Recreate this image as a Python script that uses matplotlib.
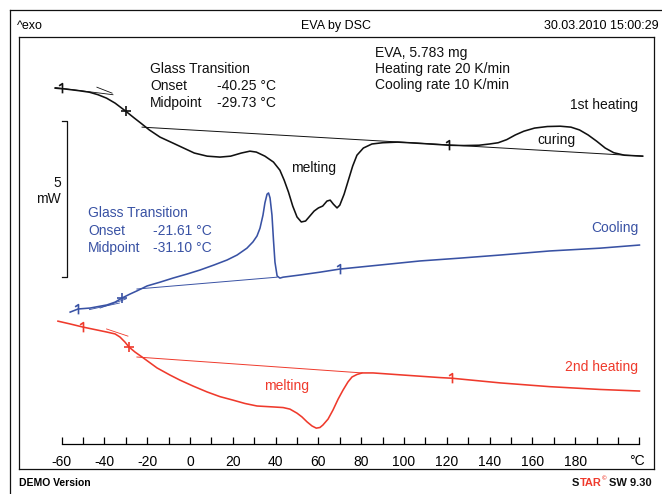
import matplotlib
matplotlib.use('Agg')
import matplotlib.pyplot as plt
from matplotlib.lines import Line2D
from matplotlib.path import Path

plt.rcParams['font.family'] = ['Liberation Sans', 'DejaVu Sans']

# --- data (temperature in degC, heat flow in mW, exo up) ---
heat1_T = [-63, -58, -52, -47, -43, -39, -35, -30, -26, -23, -19, -14, -8, -3, 2, 8, 14, 19, 24, 28,
           31, 35, 39, 42, 44, 46, 48, 50, 52, 54, 56, 58, 60, 62, 64, 65.5, 67, 68.7, 70, 72,
           74, 76, 78, 81, 85, 90, 97, 105, 112, 121, 128, 135, 140, 144, 148, 152, 156, 161, 167, 173,
           178, 182, 186, 190, 194, 198, 203, 211.5]
heat1_mW = [12.21, 12.18, 12.13, 12.08, 12.00, 11.89, 11.73, 11.47, 11.25, 11.09, 10.87, 10.64, 10.45, 10.29, 10.13, 10.03, 10.00, 10.03, 10.13, 10.19,
            10.16, 10.03, 9.84, 9.58, 9.26, 8.88, 8.43, 8.08, 7.92, 7.95, 8.11, 8.27, 8.37, 8.43, 8.59, 8.62, 8.49, 8.37, 8.46, 8.81,
            9.26, 9.71, 10.06, 10.29, 10.42, 10.46, 10.48, 10.45, 10.42, 10.38, 10.37, 10.38, 10.42, 10.46, 10.56, 10.71, 10.83, 10.93, 10.98, 10.99,
            10.96, 10.87, 10.71, 10.51, 10.29, 10.14, 10.06, 10.03]
heat1_base_T = [-22.4, 211.5]
heat1_base_mW = [10.96, 10.03]
heat1_tan_T = [[-63, -36], [-43.5, -36.4]]
heat1_tan_mW = [[12.23, 12.00], [12.24, 12.05]]
heat1_flag_T = [-60, 121]
heat1_flag_mW = [12.20, 10.38]
heat1_mid = (-30, 11.47)

cool_T = [-56, -52.3, -46.7, -38.8, -35, -31.8, -28, -24.8, -20, -14,
          -8, -1.4, 4.7, 11.2, 17.3, 22, 26.6, 29.4, 31.3, 32.7,
          34.1, 35, 36, 36.7, 37.4, 38.3, 39, 39.7, 40.7, 42,
          43.5, 51.4, 60.7, 70, 88.8, 107.5, 126, 145, 168, 191.6, 210]
cool_mW = [5.03, 5.13, 5.16, 5.26, 5.35, 5.48, 5.61, 5.71, 5.87, 5.99,
           6.12, 6.25, 6.38, 6.54, 6.70, 6.86, 7.08, 7.28, 7.47, 7.72,
           8.14, 8.53, 8.81, 8.85, 8.69, 8.14, 7.34, 6.63, 6.19, 6.12,
           6.15, 6.22, 6.31, 6.41, 6.54, 6.67, 6.76, 6.86, 6.99, 7.08, 7.18]
cool_base_T = [-24.8, 40.7]
cool_base_mW = [5.77, 6.15]
cool_tan_T = [[-47, -33], [-42, -30]]
cool_tan_mW = [[5.11, 5.32], [5.16, 5.45]]
cool_flag_T = [-52.3, 70]
cool_flag_mW = [5.13, 6.41]
cool_mid = (-31.8, 5.48)

heat2_T = [-61.7, -56, -50, -44.4, -38.8, -35, -32.7, -30.4, -28.5, -25.7,
           -22.4, -15.4, -9.3, -4.7, 1.4, 8, 14, 20, 25.7, 31.3,
           38.8, 43.5, 46.7, 50, 52.3, 54.7, 57, 59, 60.7, 62.1,
           64.5, 66.8, 69.2, 71.5, 73.8, 75.7, 78, 80.4, 85.5, 98,
           117, 122.4, 145, 168, 191.6, 210]
heat2_mW = [4.74, 4.65, 4.55, 4.47, 4.39, 4.33, 4.23, 4.07, 3.91, 3.75,
            3.59, 3.24, 3.01, 2.85, 2.66, 2.47, 2.32, 2.21, 2.10, 2.02,
            1.99, 1.97, 1.92, 1.79, 1.67, 1.51, 1.38, 1.31, 1.33, 1.41,
            1.60, 1.89, 2.24, 2.53, 2.79, 2.95, 3.03, 3.08, 3.08, 3.02,
            2.93, 2.91, 2.76, 2.64, 2.55, 2.50]
heat2_base_T = [-24.8, 80.4]
heat2_base_mW = [3.59, 3.08]
heat2_tan_T = [[-39, -29]]
heat2_tan_mW = [[4.49, 4.26]]
heat2_flag_T = [-50, 122.4]
heat2_flag_mW = [4.55, 2.91]
heat2_mid = (-28.5, 3.91)

tick_major = list(range(-60, 181, 20))
tick_minor = list(range(-60, 211, 10))

BLACK = '#111111'
BLUE = '#3952a4'
RED = '#ef3a2c'

W, H = 662, 494


def fx(x):
    return x / W


def fy(y):
    return 1 - y / H


fig = plt.figure(figsize=(6.62, 4.94), dpi=100)

# outer frame (runs off the right/bottom edge)
fig.add_artist(Line2D([fx(10), 1.0], [fy(10), fy(10)], transform=fig.transFigure, color=BLACK, lw=0.9))
fig.add_artist(Line2D([fx(10), fx(10)], [fy(10), 0.0], transform=fig.transFigure, color=BLACK, lw=0.9))

ax = fig.add_axes([fx(19), fy(469), fx(654) - fx(19), fy(37) - fy(469)])
ax.set_xlim(-79.9, 216.8)
ax.set_ylim(0, 13.85)
ax.set_xticks([])
ax.set_yticks([])
for s in ax.spines.values():
    s.set_linewidth(0.9)
    s.set_color(BLACK)

flag = Path([(0, -1), (0, 1), (-0.7, 0.55)], [Path.MOVETO, Path.LINETO, Path.LINETO])

curves = [
    (heat1_T, heat1_mW, heat1_base_T, heat1_base_mW, heat1_tan_T, heat1_tan_mW,
     heat1_flag_T, heat1_flag_mW, heat1_mid, BLACK),
    (cool_T, cool_mW, cool_base_T, cool_base_mW, cool_tan_T, cool_tan_mW,
     cool_flag_T, cool_flag_mW, cool_mid, BLUE),
    (heat2_T, heat2_mW, heat2_base_T, heat2_base_mW, heat2_tan_T, heat2_tan_mW,
     heat2_flag_T, heat2_flag_mW, heat2_mid, RED),
]
for T, y, bT, by, tT, ty, fT, fyv, mid, c in curves:
    ax.plot(T, y, color=c, lw=1.15, solid_joinstyle='round')
    ax.plot(bT, by, color=c, lw=0.7)
    for a, b in zip(tT, ty):
        ax.plot(a, b, color=c, lw=0.6)
    ax.plot(fT, fyv, ls='none', marker=flag, ms=7, mfc='none', mec=c, mew=1.2)
    ax.plot(*mid, ls='none', marker='+', ms=7, mec=c, mew=1.2)

# 5 mW scale bar
ax.plot([-59.8, -57.5, -57.5, -59.8], [11.15, 11.15, 6.15, 6.15], color=BLACK, lw=0.9)

# temperature axis
tax = fig.add_axes([fx(19), fy(444), fx(654) - fx(19), 0.02])
tax.set_xlim(ax.get_xlim())
tax.patch.set_visible(False)
for k in ['top', 'left', 'right']:
    tax.spines[k].set_visible(False)
tax.spines['bottom'].set_bounds(-60, 210)
tax.spines['bottom'].set_linewidth(0.9)
tax.set_yticks([])
tax.set_xticks(tick_major)
tax.set_xticklabels([str(v) for v in tick_major])
tax.set_xticks(tick_minor, minor=True)
tax.tick_params(axis='x', which='both', direction='in', length=5, width=0.9, pad=8, labelsize=10)
fig.text(fx(637), fy(461), '°C', ha='center', va='center', fontsize=10)

# header / footer
fig.text(fx(17), fy(26), '^exo', ha='left', va='center', fontsize=9)
fig.text(fx(336), fy(26), 'EVA by DSC', ha='center', va='center', fontsize=9)
fig.text(fx(659), fy(26), '30.03.2010 15:00:29', ha='right', va='center', fontsize=9)
fig.text(fx(19), fy(483), 'DEMO Version', ha='left', va='center', fontsize=7.5, fontweight='bold')

# "STAR(c) SW 9.30" with the TAR part in red
renderer = fig.canvas.get_renderer()
t_s = fig.text(fx(572), fy(483), 'S', ha='left', va='center', fontsize=8, fontweight='bold', color=BLACK)
x1 = t_s.get_window_extent(renderer).x1 / W
t_tar = fig.text(x1 + 0.5 / W, fy(483), 'TAR', ha='left', va='center', fontsize=8, fontweight='bold', color=RED)
x2 = t_tar.get_window_extent(renderer).x1 / W
fig.text(x2 + 0.5 / W, fy(479), '©', ha='left', va='center', fontsize=4.5, fontweight='bold', color=RED)
fig.text(fx(652), fy(483), 'SW 9.30', ha='right', va='center', fontsize=8, fontweight='bold', color=BLACK)

# annotations
fs = 10
fig.text(fx(150), fy(69), 'Glass Transition', ha='left', va='center', fontsize=fs, color=BLACK)
fig.text(fx(150), fy(86), 'Onset', ha='left', va='center', fontsize=fs, color=BLACK)
fig.text(fx(217), fy(86), '-40.25 °C', ha='left', va='center', fontsize=fs, color=BLACK)
fig.text(fx(150), fy(103), 'Midpoint', ha='left', va='center', fontsize=fs, color=BLACK)
fig.text(fx(217), fy(103), '-29.73 °C', ha='left', va='center', fontsize=fs, color=BLACK)
fig.text(fx(375), fy(53), 'EVA, 5.783 mg', ha='left', va='center', fontsize=fs, color=BLACK)
fig.text(fx(375), fy(69), 'Heating rate 20 K/min', ha='left', va='center', fontsize=fs, color=BLACK)
fig.text(fx(375), fy(85), 'Cooling rate 10 K/min', ha='left', va='center', fontsize=fs, color=BLACK)
fig.text(fx(638), fy(105), '1st heating', ha='right', va='center', fontsize=fs, color=BLACK)
fig.text(fx(556), fy(140), 'curing', ha='center', va='center', fontsize=fs, color=BLACK)
fig.text(fx(314), fy(168), 'melting', ha='center', va='center', fontsize=fs, color=BLACK)
fig.text(fx(61), fy(183), '5', ha='right', va='center', fontsize=fs, color=BLACK)
fig.text(fx(61), fy(199), 'mW', ha='right', va='center', fontsize=fs, color=BLACK)

fig.text(fx(88), fy(213), 'Glass Transition', ha='left', va='center', fontsize=fs, color=BLUE)
fig.text(fx(88), fy(231), 'Onset', ha='left', va='center', fontsize=fs, color=BLUE)
fig.text(fx(153), fy(231), '-21.61 °C', ha='left', va='center', fontsize=fs, color=BLUE)
fig.text(fx(88), fy(248), 'Midpoint', ha='left', va='center', fontsize=fs, color=BLUE)
fig.text(fx(153), fy(248), '-31.10 °C', ha='left', va='center', fontsize=fs, color=BLUE)
fig.text(fx(638), fy(228), 'Cooling', ha='right', va='center', fontsize=fs, color=BLUE)

fig.text(fx(287), fy(386), 'melting', ha='center', va='center', fontsize=fs, color=RED)
fig.text(fx(638), fy(367), '2nd heating', ha='right', va='center', fontsize=fs, color=RED)

fig.savefig('out.png', dpi=100)
